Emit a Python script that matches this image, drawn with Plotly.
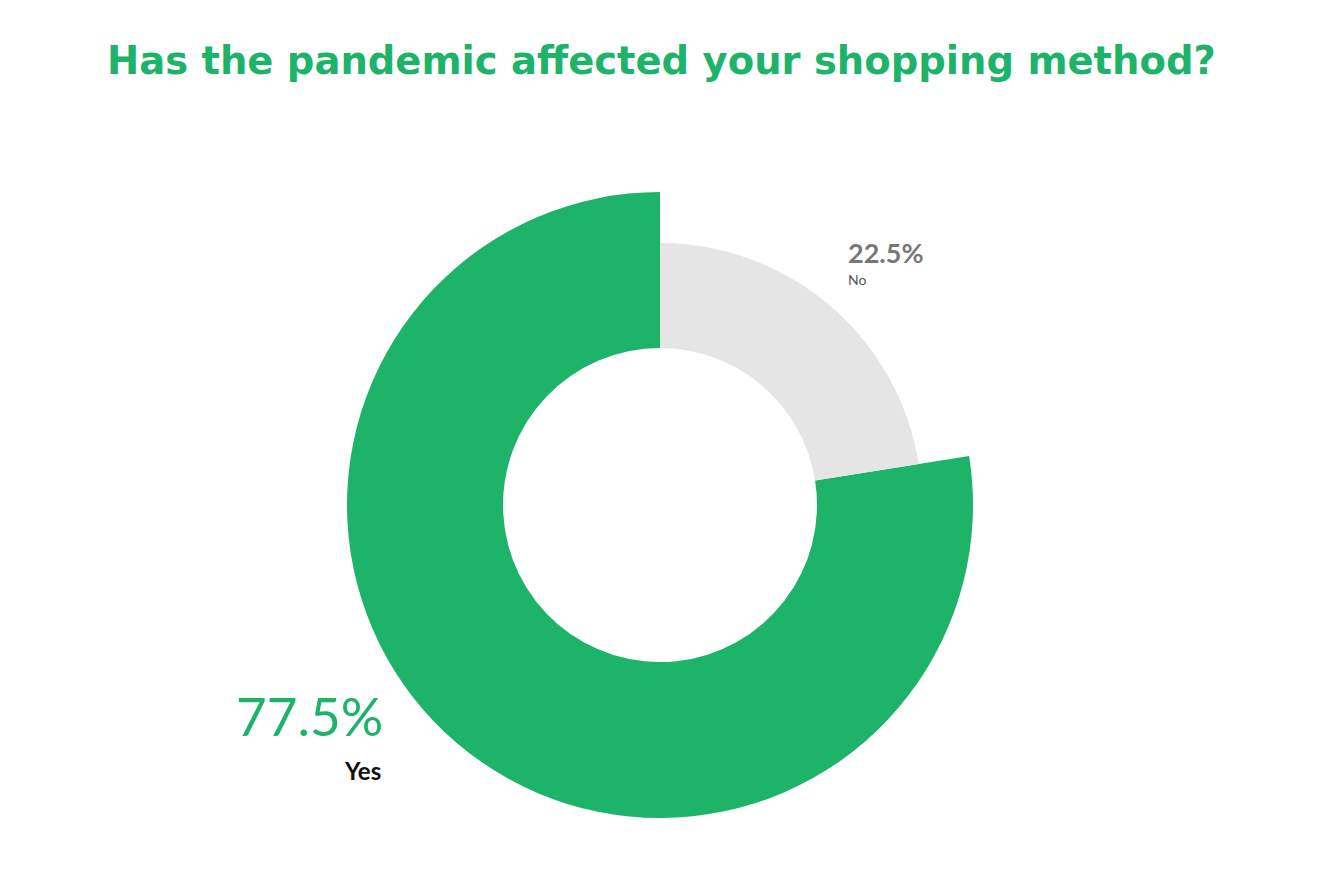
import plotly.graph_objects as go

labels = ["No", "Yes"]
values = [22.5, 77.5]
colors = ["#e5e5e5", "#1db368"]

W, H = 1320, 879
OFF = 8  # page body margin
cx, cy = 660 - OFF, 505 - OFF
r_outer_yes = 313
r_outer_no = 262
r_inner = 157

def dom(r):
    return dict(x=[(cx - r) / W, (cx + r) / W], y=[(H - cy - r) / H, (H - cy + r) / H])

fig = go.Figure()
# Yes ring (large)
fig.add_trace(go.Pie(
    labels=labels, values=values, sort=False, direction="clockwise", rotation=0,
    marker=dict(colors=["rgba(0,0,0,0)", colors[1]], line=dict(width=0)),
    hole=r_inner / r_outer_yes, domain=dom(r_outer_yes), textinfo="none",
    hoverinfo="label+percent", showlegend=False))
# No ring (smaller)
fig.add_trace(go.Pie(
    labels=labels, values=values, sort=False, direction="clockwise", rotation=0,
    marker=dict(colors=[colors[0], "rgba(0,0,0,0)"], line=dict(width=0)),
    hole=r_inner / r_outer_no, domain=dom(r_outer_no), textinfo="none",
    hoverinfo="label+percent", showlegend=False))

def px(x, y):
    return dict(x=(x - OFF) / W, y=1 - (y - OFF) / H, xref="paper", yref="paper")

ann = [
    dict(text="<b>Has the pandemic affected your shopping method?</b>", **px(661, 60),
         font=dict(family="DejaVu Sans", size=38.5, color="#1db368"), xanchor="center", yanchor="middle"),
    dict(text="<b>%.1f%%</b>" % values[0], **px(846, 252),
         font=dict(family="Lato", size=27, color="#777777"), xanchor="left", yanchor="middle"),
    dict(text=labels[0], **px(846, 279),
         font=dict(family="Lato", size=14, color="#555555"), xanchor="left", yanchor="middle"),
    dict(text="%.1f%%" % values[1], **px(234, 715),
         font=dict(family="Lato", size=53, color="#1db368"), xanchor="left", yanchor="middle"),
    dict(text="<b>" + labels[1] + "</b>", **px(342, 770),
         font=dict(family="Lato", size=24, color="#111111"), xanchor="left", yanchor="middle"),
]
for a in ann:
    a["showarrow"] = False
fig.update_layout(width=W, height=H, margin=dict(l=0, r=0, t=0, b=0),
                  paper_bgcolor="white", plot_bgcolor="white", annotations=ann)
fig.write_html("out.html")
